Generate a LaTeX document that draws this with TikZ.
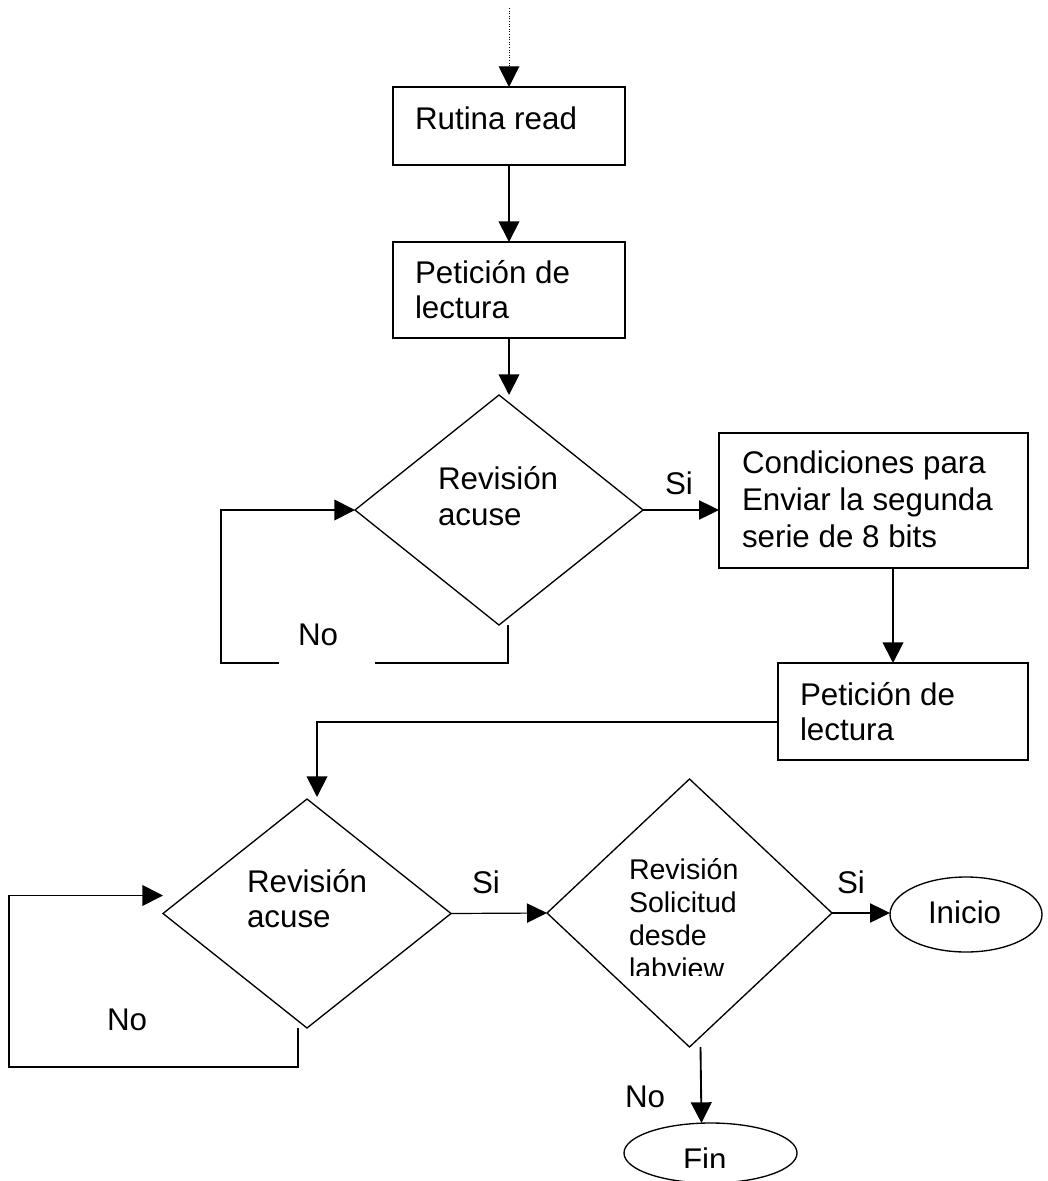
\documentclass[tikz,border=0pt]{standalone}
\usepackage{fontspec}
\setmainfont{Liberation Sans}
\usetikzlibrary{arrows.meta,shapes.geometric,calc}
\newdimen\pxu \pxu=0.75pt
\begin{document}
\begin{tikzpicture}[x=0.75pt,y=-0.75pt,
  box/.style={draw, line width=1.2pt, rectangle, inner sep=0pt, outer sep=0pt},
  dmd/.style={draw, line width=1pt, diamond, inner sep=0pt, outer sep=0pt},
  ell/.style={draw, line width=1pt, ellipse, inner sep=0pt, outer sep=0pt},
  conn/.style={line width=1.4pt, -{Triangle[length=15.5pt,width=15.5pt]}},
  thinconn/.style={line width=0.9pt, -{Triangle[length=15pt,width=14.5pt]}},
  dotconn/.style={line width=0.75pt, dash pattern=on 0.75pt off 1.2pt, -{Triangle[length=15.5pt,width=15.5pt]}},
  txt/.style={anchor=base west, inner sep=0pt, outer sep=0pt, align=left},
  big/.style={font=\fontsize{23.5}{26.5}\selectfont},
  small/.style={font=\fontsize{21.4}{24.75}\selectfont}]
\useasboundingbox (0,0) rectangle (1047,1181);

% shapes
\node[box, minimum width=232\pxu, minimum height=78\pxu] (b1) at (509,126) {};
\node[box, minimum width=232\pxu, minimum height=96\pxu] (b2) at (509,290) {};
\node[dmd, minimum width=288\pxu, minimum height=230\pxu] (d1) at (499,510) {};
\node[box, minimum width=309\pxu, minimum height=135\pxu] (b3) at (873.5,500.5) {};
\node[box, minimum width=250\pxu, minimum height=97\pxu] (b4) at (903,711.5) {};
\node[dmd, minimum width=288\pxu, minimum height=229\pxu] (d2) at (307,913.5) {};
\node[dmd, minimum width=285\pxu, minimum height=268\pxu] (d3) at (689.5,913) {};
\node[ell, minimum width=152\pxu, minimum height=75\pxu] (ini) at (966,914.5) {};
\node[ell, minimum width=173\pxu, minimum height=60\pxu] (fin) at (710.5,1153) {};

% texts (anchor = baseline of the last line)
\node[txt, big] (t1) at (415,129) {Rutina read};
\node[txt, big, font=\fontsize{23.5}{26.25}\selectfont] (t2) at (415,318) {Petición de\\lectura};
\node[txt, big, font=\fontsize{23.5}{27}\selectfont] (t3) at (438,525) {Revisión\\acuse};
\node[txt, big, font=\fontsize{23.5}{27.75}\selectfont] (t4) at (742,547) {Condiciones para\\Enviar la segunda\\serie de 8 bits};
\node[txt, big, font=\fontsize{23.5}{26.25}\selectfont] (t5) at (800,740) {Petición de\\lectura};
\node[txt, big, font=\fontsize{23.5}{26.25}\selectfont] (t6) at (247,927) {Revisión\\acuse};
\begin{scope}
  \clip (550,840) rectangle (830,975);
  \node[txt, small] (t7) at (629,978) {Revisión\\Solicitud\\desde\\labview};
\end{scope}
\node[txt, big] (t8) at (928,923) {Inicio};
\begin{scope}
  \clip (620,1100) rectangle (800,1167);
  \node[txt, big] (t9) at (683,1170) {Fin};
\end{scope}

% connectors
\coordinate (start) at (509,8);
\draw[dotconn] (start) -- (b1.north);
\draw[conn] (b1.south) -- (b2.north);
\draw[conn] (b2.south) -- (b2.south |- d1.north);
\draw[conn] ($(d1.south)+(9,0)$) |- (221,663) |- (d1.west);
\fill[white] (279,656) rectangle (375,670);
\draw[thinconn] (d1.east) -- (d1.east -| b3.west);
\draw[conn] ($(b3.south west)+(174,0)$) -- ($(b4.north west)+(115,0)$);
\draw[conn] ($(b4.south west)+(0,-38)$) -| ($(d2.north)+(10,-2)$);
\draw[conn] ($(d2.south)+(-9,0)$) |- (9,1067) |- ($(d2.west)+(0,-18)$);
\draw[thinconn] (d2.east) -- (d3.west);
\draw[thinconn] (d3.east) -- (d3.east -| ini.west);
\draw[conn] ($(d3.south)+(11,0)$) -- ($(fin.north)+(-9,0)$);

% labels
\node[txt, big] (l1) at (665,494) {Si};
\node[txt, big] (l2) at (298,645) {No};
\node[txt, big] (l3) at (472,893) {Si};
\node[txt, big] (l4) at (107,1030) {No};
\node[txt, big] (l5) at (837,893) {Si};
\node[txt, big] (l6) at (625,1107) {No};
\end{tikzpicture}
\end{document}
